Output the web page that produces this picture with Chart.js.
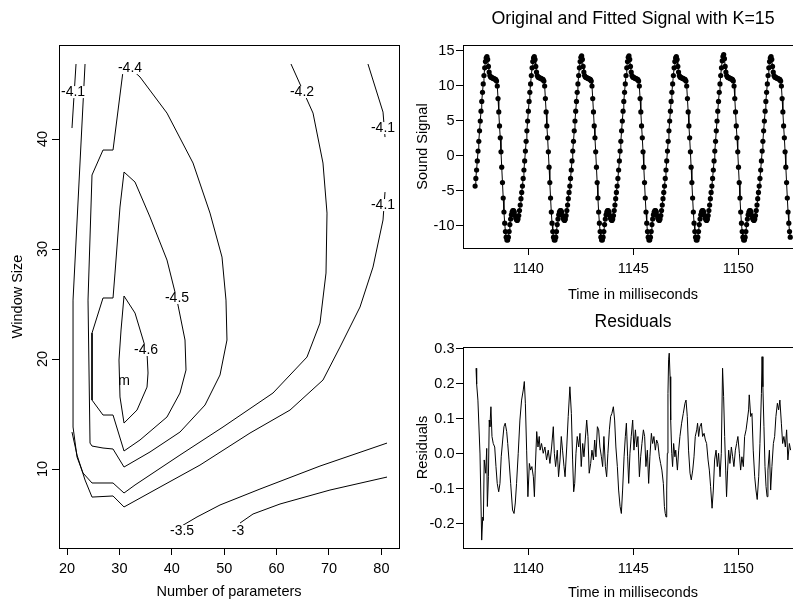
<!DOCTYPE html>
<html>
<head>
<meta charset="utf-8">
<script src="https://cdn.jsdelivr.net/npm/chart.js@4.4.1/dist/chart.umd.min.js"></script>
<style>
  html, body { margin: 0; padding: 0; background: #fff; overflow: hidden; }
  body { width: 793px; height: 603px; position: relative; }
  canvas { position: absolute; }
</style>
</head>
<body>
<canvas id="contour" width="410" height="603" style="left:0;top:0"></canvas>
<canvas id="signal" width="410" height="310" style="left:400px;top:0"></canvas>
<canvas id="resid" width="410" height="303" style="left:400px;top:300px"></canvas>
<script>
// ---- contour panel: number of parameters vs window size ----
const lev41aX = [21.72, 20.95];
const lev41aY = [46.82, 41.0];
const lev41bX = [77.44, 80.31, 80.69];
const lev41bY = [46.82, 42.45, 40.18];
const lev41cX = [20.95, 21.91, 23.44, 24.77, 28.78, 30.88, 37.75, 45.38, 54.92, 62.56, 68.85, 72.10, 75.92, 78.40, 80.31, 80.69];
const lev41cY = [13.36, 11.27, 9.0, 7.45, 7.55, 6.55, 8.36, 10.36, 13.27, 15.36, 18.09, 21.09, 24.73, 28.36, 32.64, 35.18];
const lev42X = [62.75, 66.95, 68.85, 69.62, 69.43, 68.28, 65.80, 59.31, 49.77, 41.56, 32.98, 30.88, 28.78, 24.77, 23.05, 21.91, 21.15, 21.15, 23.44];
const lev42Y = [46.82, 42.36, 37.82, 33.27, 27.82, 23.27, 20.18, 16.91, 13.82, 11.27, 8.55, 7.82, 8.73, 8.73, 9.64, 11.09, 13.82, 25.36, 46.82];
const lev44X = [30.69, 28.78, 26.87, 24.77, 24.01, 24.39, 24.77, 26.87, 28.78, 30.88, 35.84, 41.56, 46.34, 49.20, 50.53, 50.34, 49.58, 47.29, 44.05, 39.08, 33.93, 31.64, 30.69];
const lev44Y = [46.18, 39.0, 39.0, 36.73, 25.36, 12.36, 12.09, 11.91, 11.82, 10.18, 11.55, 13.36, 15.82, 18.55, 21.73, 25.36, 29.27, 33.27, 37.82, 42.36, 45.64, 46.64, 46.18];
const lev45X = [30.88, 30.11, 29.16, 28.78, 26.87, 24.77, 24.77, 26.87, 28.78, 30.88, 33.93, 39.08, 41.56, 42.71, 42.52, 40.99, 39.08, 35.84, 32.98, 30.88];
const lev45Y = [37.0, 33.82, 27.82, 25.55, 25.55, 22.36, 16.27, 14.91, 14.91, 11.64, 12.64, 14.73, 16.91, 19.0, 21.73, 25.36, 29.0, 32.91, 36.09, 37.0];
const lev46X = [30.88, 32.98, 35.27, 35.46, 35.27, 33.36, 30.88, 30.11, 29.92, 30.31, 30.88];
const lev46Y = [25.73, 24.18, 20.55, 18.73, 17.45, 15.36, 14.18, 16.55, 19.91, 22.64, 25.73];
const lev35X = [41.56, 44.81, 49.20, 56.83, 68.28, 81.07];
const lev35Y = [4.73, 5.64, 6.73, 8.18, 10.27, 12.36];
const lev30X = [53.02, 55.50, 60.65, 70.19, 81.07];
const lev30Y = [5.09, 5.91, 6.82, 8.09, 9.27];

const contourLabels = ['-4.1', '-4.4', '-4.2', '-4.1', '-4.1', '-4.5', '-4.6', 'm', '-3.5', '-3'];
const contourLabelX = [21.15, 32.02, 64.85, 80.31, 80.31, 40.99, 35.08, 30.88, 41.95, 52.63];
const contourLabelY = [44.27, 46.45, 44.27, 41.0, 34.0, 25.55, 20.82, 18.0, 4.36, 4.36];

const paramTicks = [20, 30, 40, 50, 60, 70, 80];
const windowTicks = [10, 20, 30, 40];

// ---- sound signal (sampled every sampleStep ms) ----
const sampleStart = 1137.466;
const sampleStep = 0.03523;
const soundSignal = [
  -4.3, -3.2, -2.0, -0.7, 0.7, 2.1, 3.6, 5.0, 6.4, 7.8, 9.1, 10.3, 11.5, 12.6, 13.5, 14.0,
  14.2, 13.8, 12.8, 12.0, 11.5, 11.3, 11.2, 11.2, 11.1, 11.1, 11.0, 11.0, 10.9, 10.7, 10.0, 8.2,
  6.3, 4.3, 2.6, 0.6, -1.6, -3.8, -6.0, -8.0, -9.6, -10.8, -11.6, -12.0, -12.0, -11.6, -10.8, -9.8,
  -9.0, -8.4, -8.0, -7.8, -7.8, -8.0, -8.5, -8.9, -9.1, -9.2, -9.0, -8.5, -7.8, -7.0, -6.1, -5.2,
  -4.3, -3.2, -2.0, -0.7, 0.7, 2.1, 3.6, 5.0, 6.4, 7.8, 9.1, 10.3, 11.5, 12.6, 13.5, 14.0,
  14.2, 13.8, 12.8, 12.0, 11.5, 11.3, 11.2, 11.2, 11.1, 11.1, 11.0, 11.0, 10.9, 10.7, 10.0, 8.2,
  6.3, 4.3, 2.6, 0.6, -1.6, -3.8, -6.0, -8.0, -9.6, -10.8, -11.6, -12.0, -12.0, -11.6, -10.8, -9.8,
  -9.0, -8.4, -8.0, -7.8, -7.8, -8.0, -8.5, -8.9, -9.1, -9.2, -9.0, -8.5, -7.8, -7.0, -6.1, -5.2,
  -4.3, -3.2, -2.0, -0.7, 0.7, 2.1, 3.6, 5.0, 6.4, 7.8, 9.1, 10.3, 11.5, 12.6, 13.5, 14.1,
  14.3, 13.8, 12.8, 12.0, 11.5, 11.3, 11.2, 11.2, 11.1, 11.1, 11.0, 11.0, 10.9, 10.7, 10.0, 8.2,
  6.3, 4.3, 2.6, 0.6, -1.6, -3.8, -6.0, -8.0, -9.6, -10.8, -11.6, -12.0, -12.0, -11.6, -10.8, -9.8,
  -9.0, -8.4, -8.0, -7.8, -7.8, -8.0, -8.5, -8.9, -9.1, -9.2, -9.0, -8.5, -7.8, -7.0, -6.1, -5.2,
  -4.3, -3.2, -2.0, -0.7, 0.7, 2.1, 3.6, 5.0, 6.4, 7.8, 9.1, 10.3, 11.5, 12.6, 13.5, 14.1,
  14.3, 13.8, 12.8, 12.0, 11.5, 11.3, 11.2, 11.2, 11.1, 11.1, 11.0, 11.0, 10.9, 10.7, 10.0, 8.2,
  6.3, 4.3, 2.6, 0.6, -1.6, -3.8, -6.0, -8.0, -9.6, -10.8, -11.6, -12.0, -12.0, -11.6, -10.8, -9.8,
  -9.0, -8.4, -8.0, -7.8, -7.8, -8.0, -8.5, -8.9, -9.1, -9.2, -9.0, -8.5, -7.8, -7.0, -6.1, -5.2,
  -4.3, -3.2, -2.0, -0.7, 0.7, 2.1, 3.6, 5.0, 6.4, 7.8, 9.1, 10.3, 11.5, 12.6, 13.5, 14.0,
  14.2, 13.8, 12.8, 12.0, 11.5, 11.3, 11.2, 11.2, 11.1, 11.1, 11.0, 11.0, 10.9, 10.7, 10.0, 8.2,
  6.3, 4.3, 2.6, 0.6, -1.6, -3.8, -6.0, -8.0, -9.6, -10.8, -11.6, -12.0, -12.0, -11.6, -10.8, -9.8,
  -9.0, -8.4, -8.0, -7.8, -7.8, -8.0, -8.5, -8.9, -9.1, -9.2, -9.0, -8.5, -7.8, -7.0, -6.1, -5.2,
  -4.3, -3.2, -2.0, -0.7, 0.7, 2.1, 3.6, 5.0, 6.4, 7.8, 9.1, 10.3, 11.5, 12.6, 13.6, 14.2,
  14.5, 13.9, 12.8, 12.0, 11.5, 11.3, 11.2, 11.2, 11.1, 11.1, 11.0, 11.0, 10.9, 10.7, 10.0, 8.2,
  6.3, 4.3, 2.6, 0.6, -1.6, -3.8, -6.0, -8.0, -9.6, -10.8, -11.6, -12.0, -12.0, -11.6, -10.8, -9.8,
  -9.0, -8.4, -8.0, -7.8, -7.8, -8.0, -8.5, -8.9, -9.1, -9.2, -9.0, -8.5, -7.8, -7.0, -6.1, -5.2,
  -4.3, -3.2, -2.0, -0.7, 0.7, 2.1, 3.6, 5.0, 6.4, 7.8, 9.1, 10.3, 11.5, 12.6, 13.5, 14.0,
  14.2, 13.8, 12.8, 12.0, 11.5, 11.3, 11.2, 11.2, 11.1, 11.1, 11.0, 11.0, 10.9, 10.7, 10.0, 8.2,
  6.3, 4.3, 2.6, 0.6, -1.6, -3.8, -6.0, -8.0, -9.6, -10.8, -11.6
];
const signalTicksY = [-10, -5, 0, 5, 10, 15];
const timeTicks = [1140, 1145, 1150];

// ---- residuals ----
const residTime = [
  1137.51, 1137.54, 1137.60, 1137.70, 1137.78, 1137.83, 1137.86, 1137.90, 1137.97, 1138.02,
  1138.05, 1138.10, 1138.14, 1138.17, 1138.22, 1138.27, 1138.33, 1138.40, 1138.46, 1138.52,
  1138.59, 1138.65, 1138.71, 1138.78, 1138.84, 1138.90, 1138.97, 1139.02, 1139.08, 1139.16,
  1139.25, 1139.32, 1139.38, 1139.44, 1139.52, 1139.60, 1139.68, 1139.76, 1139.81, 1139.86,
  1139.92, 1139.98, 1140.05, 1140.11, 1140.17, 1140.24, 1140.29, 1140.33, 1140.40, 1140.46,
  1140.52, 1140.56, 1140.63, 1140.71, 1140.79, 1140.87, 1140.95, 1141.03, 1141.11, 1141.19,
  1141.24, 1141.30, 1141.38, 1141.44, 1141.51, 1141.57, 1141.63, 1141.70, 1141.75, 1141.83,
  1141.90, 1141.98, 1142.05, 1142.11, 1142.16, 1142.21, 1142.27, 1142.33, 1142.40, 1142.46,
  1142.52, 1142.59, 1142.65, 1142.71, 1142.78, 1142.84, 1142.90, 1142.97, 1143.03, 1143.10,
  1143.16, 1143.22, 1143.29, 1143.35, 1143.41, 1143.48, 1143.54, 1143.60, 1143.67, 1143.73,
  1143.79, 1143.86, 1143.92, 1143.98, 1144.05, 1144.11, 1144.17, 1144.24, 1144.30, 1144.37,
  1144.43, 1144.49, 1144.56, 1144.62, 1144.67, 1144.73, 1144.78, 1144.84, 1144.90, 1144.97,
  1145.03, 1145.10, 1145.16, 1145.22, 1145.29, 1145.35, 1145.41, 1145.48, 1145.54, 1145.60,
  1145.67, 1145.73, 1145.79, 1145.86, 1145.92, 1145.98, 1146.05, 1146.11, 1146.17, 1146.24,
  1146.30, 1146.36, 1146.43, 1146.48, 1146.52, 1146.56, 1146.59, 1146.62, 1146.65, 1146.68,
  1146.71, 1146.75, 1146.78, 1146.83, 1146.87, 1146.92, 1146.98, 1147.02, 1147.10, 1147.16,
  1147.22, 1147.30, 1147.38, 1147.46, 1147.51, 1147.57, 1147.63, 1147.70, 1147.76, 1147.83,
  1147.89, 1147.95, 1148.02, 1148.06, 1148.11, 1148.17, 1148.24, 1148.30, 1148.37, 1148.43,
  1148.49, 1148.56, 1148.62, 1148.68, 1148.75, 1148.81, 1148.87, 1148.94, 1149.00, 1149.06,
  1149.13, 1149.19, 1149.25, 1149.30, 1149.35, 1149.40, 1149.44, 1149.49, 1149.54, 1149.60,
  1149.67, 1149.73, 1149.79, 1149.86, 1149.92, 1149.98, 1150.05, 1150.11, 1150.17, 1150.24,
  1150.30, 1150.37, 1150.43, 1150.49, 1150.52, 1150.59, 1150.65, 1150.71, 1150.78, 1150.84,
  1150.90, 1150.97, 1151.03, 1151.10, 1151.13, 1151.17, 1151.22, 1151.27, 1151.32, 1151.37,
  1151.41, 1151.48, 1151.54, 1151.60, 1151.67, 1151.73, 1151.79, 1151.86, 1151.92, 1151.98,
  1152.05, 1152.11, 1152.17, 1152.24, 1152.30, 1152.36, 1152.43, 1152.49
];
const residValue = [
  0.245, 0.200, 0.154, 0.000, -0.246, -0.180, -0.190, -0.017, -0.055, 0.016,
  -0.150, -0.065, 0.097, 0.078, 0.135, 0.050, 0.030, 0.020, -0.036, -0.084,
  -0.108, -0.084, -0.008, 0.040, 0.078, 0.088, 0.064, 0.030, -0.017, -0.084,
  -0.160, -0.170, -0.140, -0.084, 0.002, 0.097, 0.154, 0.183, 0.207, 0.145,
  0.011, -0.122, -0.027, -0.046, -0.036, -0.065, -0.122, -0.046, 0.064, 0.020,
  0.050, 0.011, 0.030, 0.002, 0.020, -0.017, 0.011, -0.027, 0.020, 0.078,
  0.002, -0.036, 0.011, -0.065, -0.017, 0.050, 0.011, -0.036, -0.065, 0.020,
  0.107, 0.192, 0.116, -0.017, -0.108, -0.084, 0.002, 0.050, 0.020, 0.059,
  -0.036, 0.030, -0.008, 0.040, 0.097, 0.050, -0.055, -0.027, 0.011, -0.017,
  0.040, -0.008, 0.078, 0.069, 0.020, -0.008, -0.036, 0.050, -0.036, -0.065,
  0.002, 0.069, 0.107, 0.116, 0.135, 0.097, 0.020, -0.036, -0.103, -0.150,
  -0.170, -0.103, -0.008, 0.050, 0.088, -0.008, -0.084, 0.002, 0.050, 0.097,
  0.011, 0.069, 0.020, 0.050, -0.065, -0.008, 0.030, 0.069, 0.050, -0.036,
  0.011, -0.084, -0.008, 0.059, 0.030, 0.050, 0.011, 0.040, 0.030, -0.008,
  -0.027, -0.046, -0.084, -0.150, -0.170, -0.180, -0.103, 0.002, 0.173, 0.269,
  0.288, 0.221, 0.097, 0.002, -0.036, 0.030, -0.008, 0.011, -0.046, 0.011,
  0.050, 0.088, 0.116, 0.145, 0.154, 0.107, 0.011, -0.055, -0.074, -0.046,
  -0.008, 0.050, 0.069, 0.088, 0.050, 0.078, 0.088, 0.050, 0.059, 0.040,
  0.030, -0.017, -0.046, -0.093, -0.155, -0.103, -0.017, 0.011, -0.036, 0.002,
  -0.065, 0.002, 0.245, 0.164, 0.050, -0.046, -0.122, -0.046, 0.011, -0.027,
  0.020, -0.008, -0.036, 0.011, 0.030, 0.050, 0.002, -0.046, -0.008, -0.036,
  0.050, 0.069, 0.097, 0.126, 0.169, 0.107, 0.116, 0.011, -0.065, -0.103,
  -0.130, -0.065, 0.030, 0.173, 0.278, 0.192, 0.078, -0.036, -0.093, -0.122,
  -0.046, 0.011, -0.103, -0.036, 0.030, 0.050, 0.107, 0.145, 0.126, 0.154,
  0.088, 0.030, 0.050, 0.020, 0.069, -0.017, 0.030, 0.011
];
const residTicksY = [-0.2, -0.1, 0.0, 0.1, 0.2, 0.3];

const FONT = "'Liberation Sans', Arial, Helvetica, sans-serif";
Chart.defaults.font.family = FONT;
Chart.defaults.color = '#000';

// box around the plot region plus an optional main title (R style)
const rFrame = {
  id: 'rFrame',
  afterDraw(chart, args, opts) {
    const { ctx, chartArea: a } = chart;
    ctx.save();
    ctx.strokeStyle = '#000';
    ctx.lineWidth = 1;
    ctx.strokeRect(Math.round(a.left) + 0.5, Math.round(a.top) + 0.5,
      Math.round(a.right - a.left), Math.round(a.bottom - a.top));
    if (opts.title) {
      ctx.fillStyle = '#000';
      ctx.font = opts.size + 'px ' + FONT;
      ctx.textAlign = 'center';
      ctx.textBaseline = 'middle';
      ctx.fillText(opts.title, (a.left + a.right) / 2, a.top - opts.gap);
    }
    ctx.restore();
  }
};

// contour level labels, drawn in a gap of the line
const contourText = {
  id: 'contourText',
  afterDatasetsDraw(chart) {
    const { ctx, scales: { x, y } } = chart;
    ctx.save();
    ctx.font = '14px ' + FONT;
    ctx.textAlign = 'center';
    ctx.textBaseline = 'middle';
    contourLabels.forEach((t, i) => {
      const px = x.getPixelForValue(contourLabelX[i]);
      const py = y.getPixelForValue(contourLabelY[i]);
      if (t !== 'm') {
        const w = ctx.measureText(t).width;
        ctx.fillStyle = '#fff';
        ctx.fillRect(px - w / 2 - 1, py - 6, w + 2, 12);
      }
      ctx.fillStyle = '#000';
      ctx.fillText(t, px, py);
    });
    ctx.restore();
  }
};

function rScale(o) {
  const horiz = o.position === 'bottom';
  return {
    type: 'linear',
    position: o.position,
    min: o.min,
    max: o.max,
    border: { display: false },
    grid: { drawOnChartArea: false, tickLength: 7, color: '#000', lineWidth: 1 },
    ticks: Object.assign({
      autoSkip: false,
      color: '#000',
      font: { size: 14.5 },
      padding: horiz ? 5.7 : 1.5,
      minRotation: 0,
      maxRotation: 0,
      callback: v => String(v)
    }, o.ticks || {}),
    title: {
      display: true,
      text: o.title,
      color: '#000',
      font: { size: 14.5 },
      padding: horiz ? { top: 0, bottom: o.titlePad } : { top: o.titlePad, bottom: 0 }
    },
    afterBuildTicks: s => { s.ticks = o.values.map(v => ({ value: v })); },
    afterFit: s => { if (horiz) s.height = o.size; else s.width = o.size; }
  };
}

function baseOptions(padding) {
  return {
    responsive: false,
    animation: false,
    devicePixelRatio: 1,
    events: [],
    layout: { padding: padding, autoPadding: false },
    plugins: { legend: { display: false }, tooltip: { enabled: false } }
  };
}

function contourSet(xs, ys) {
  return {
    data: xs.map((v, i) => ({ x: v, y: ys[i] })),
    showLine: true,
    borderColor: '#000',
    borderWidth: 1,
    pointRadius: 0,
    tension: 0
  };
}

// contour chart
const contourOpts = baseOptions({ left: 0, top: 45, right: 11, bottom: 0 });
contourOpts.scales = {
  x: rScale({ position: 'bottom', min: 18.47, max: 83.36, values: paramTicks, size: 55,
    title: 'Number of parameters', titlePad: 2.3 }),
  y: rScale({ position: 'left', min: 2.82, max: 48.55, values: windowTicks, size: 59,
    title: 'Window Size', titlePad: 8.8,
    ticks: { minRotation: 90, maxRotation: 90, crossAlign: 'center', padding: 0.7 } })
};
contourOpts.plugins.rFrame = {};
new Chart(document.getElementById('contour'), {
  type: 'scatter',
  data: {
    datasets: [
      contourSet(lev41aX, lev41aY), contourSet(lev41bX, lev41bY), contourSet(lev41cX, lev41cY),
      contourSet(lev42X, lev42Y), contourSet(lev44X, lev44Y), contourSet(lev45X, lev45Y),
      contourSet(lev46X, lev46Y), contourSet(lev35X, lev35Y), contourSet(lev30X, lev30Y)
    ]
  },
  options: contourOpts,
  plugins: [rFrame, contourText]
});

// original and fitted signal
const signalOpts = baseOptions({ left: 0, top: 45, right: 7, bottom: 0 });
signalOpts.scales = {
  x: rScale({ position: 'bottom', min: 1136.89, max: 1153.08, values: timeTicks, size: 62,
    title: 'Time in milliseconds', titlePad: 6.3 }),
  y: rScale({ position: 'left', min: -13.143, max: 15.857, values: signalTicksY, size: 63,
    title: 'Sound Signal', titlePad: 13.8 })
};
signalOpts.plugins.rFrame = { title: 'Original and Fitted Signal with K=15', gap: 25.5, size: 17.8 };
new Chart(document.getElementById('signal'), {
  type: 'scatter',
  data: {
    datasets: [{
      data: soundSignal.map((v, i) => ({ x: sampleStart + i * sampleStep, y: v })),
      showLine: true,
      borderColor: '#000',
      borderWidth: 1,
      pointRadius: 2.6,
      pointBackgroundColor: '#000',
      pointBorderWidth: 0
    }]
  },
  options: signalOpts,
  plugins: [rFrame]
});

// residuals
const residOpts = baseOptions({ left: 0, top: 47, right: 7, bottom: 0 });
residOpts.scales = {
  x: rScale({ position: 'bottom', min: 1136.89, max: 1153.08, values: timeTicks, size: 55,
    title: 'Time in milliseconds', titlePad: 1.3 }),
  y: rScale({ position: 'left', min: -0.2686, max: 0.3057, values: residTicksY, size: 63,
    title: 'Residuals', titlePad: 13.8, ticks: { callback: v => v.toFixed(1) } })
};
residOpts.plugins.rFrame = { title: 'Residuals', gap: 25.3, size: 17.5 };
new Chart(document.getElementById('resid'), {
  type: 'scatter',
  data: {
    datasets: [{
      data: residTime.map((t, i) => ({ x: t, y: residValue[i] })),
      showLine: true,
      borderColor: '#000',
      borderWidth: 1,
      pointRadius: 0
    }]
  },
  options: residOpts,
  plugins: [rFrame]
});
</script>
</body>
</html>
